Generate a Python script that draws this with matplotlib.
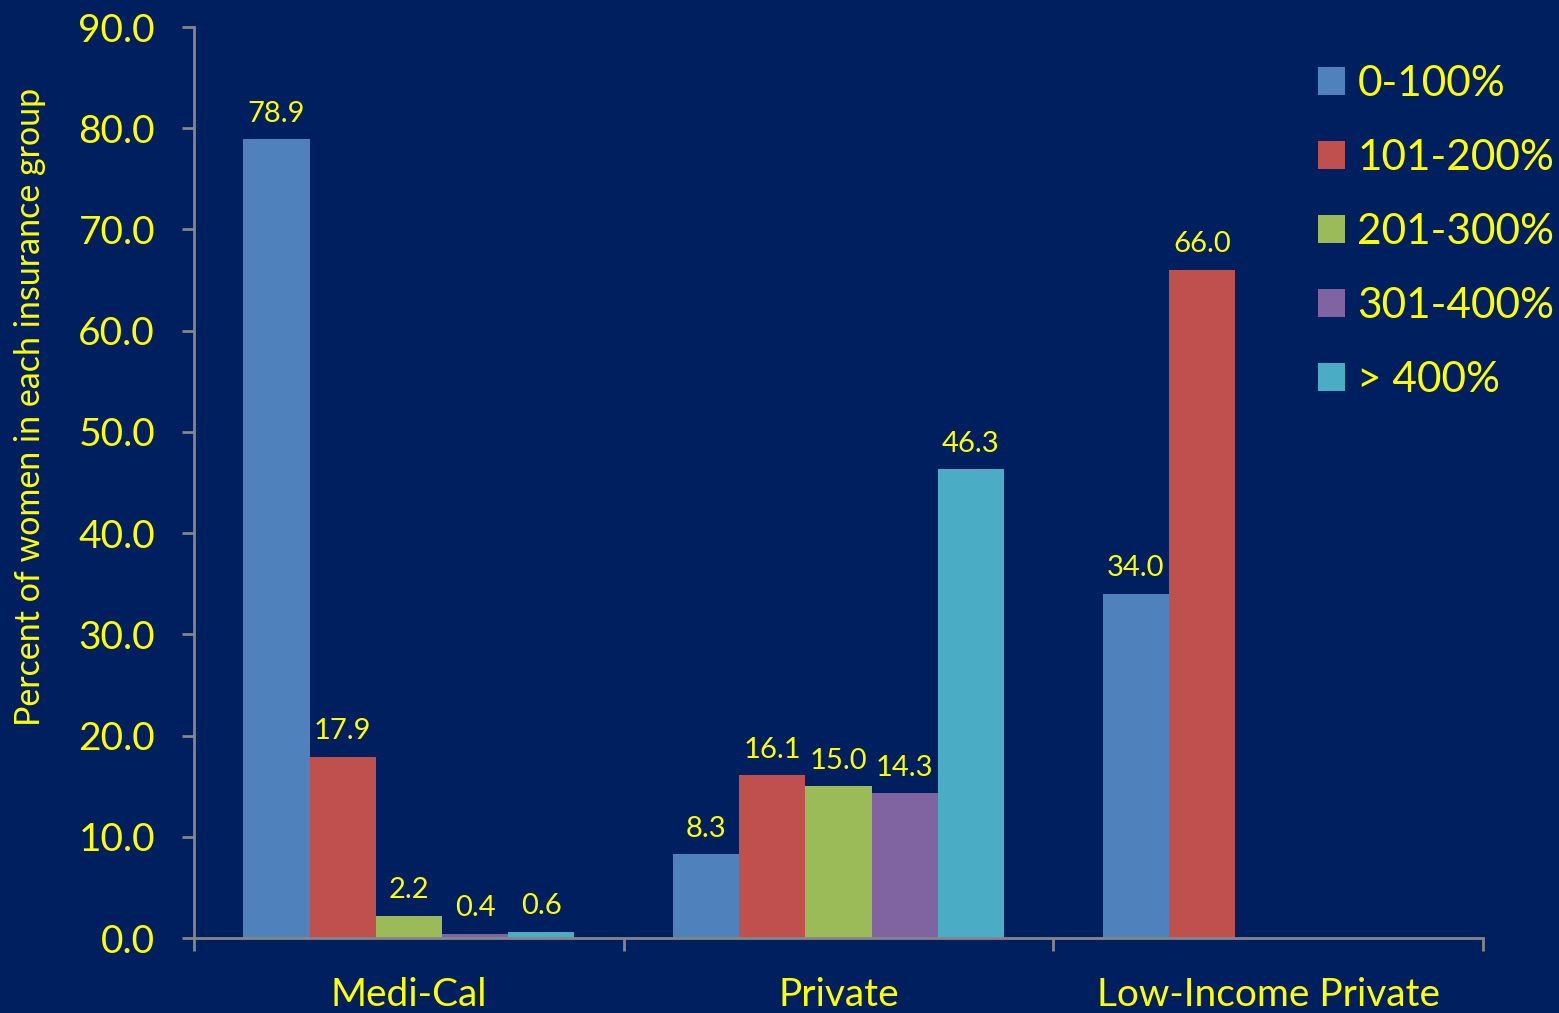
import numpy as np
import matplotlib.pyplot as plt
from matplotlib.patches import Patch

plt.rcParams['font.family'] = ['Lato', 'DejaVu Sans']

categories = ['Medi-Cal', 'Private', 'Low-Income Private']
series = ['0-100%', '101-200%', '201-300%', '301-400%', '> 400%']
values = [
    [78.9, 8.3, 34.0],
    [17.9, 16.1, 66.0],
    [2.2, 15.0, np.nan],
    [0.4, 14.3, np.nan],
    [0.6, 46.3, np.nan],
]
colors = ['#4F81BD', '#C0504D', '#9BBB59', '#8064A2', '#4BACC6']

bg = '#001F5F'
yellow = '#FFFF00'
grey = '#868686'

fig = plt.figure(figsize=(15.59, 10.13), dpi=100, facecolor=bg)
ax = fig.add_axes([0.1244, 0.0740, 0.8268, 0.8993])
ax.set_facecolor(bg)

width = 0.154
x = np.arange(len(categories))
for i, (name, vals) in enumerate(zip(series, values)):
    pos = x + 0.5 + (i - 2) * width
    vals = np.array(vals, dtype=float)
    ok = ~np.isnan(vals)
    ax.bar(pos[ok], vals[ok], width, color=colors[i], label=name)
    for px, v in zip(pos[ok], vals[ok]):
        ax.annotate('%.1f' % v, (px, v), xytext=(0, 9), textcoords='offset points',
                    ha='center', va='bottom', color=yellow, fontsize=21)

ax.set_xlim(0, 3)
ax.set_ylim(0, 90)
ax.set_yticks(np.arange(0, 91, 10))
ax.set_yticklabels(['%.1f' % t for t in np.arange(0, 91, 10)])
ax.set_xticks([0, 1, 2, 3])
ax.set_xticklabels([])
ax.set_xticks(x + 0.5, minor=True)
ax.set_xticklabels(categories, minor=True)
ax.tick_params(axis='x', which='minor', length=0, pad=28, labelsize=28, labelcolor=yellow)
ax.tick_params(axis='x', which='major', length=9, width=2, color=grey, direction='out')
ax.tick_params(axis='y', length=9, width=2, color=grey, labelsize=28, labelcolor=yellow, pad=19)

for s in ['top', 'right']:
    ax.spines[s].set_visible(False)
for s in ['left', 'bottom']:
    ax.spines[s].set_color(grey)
    ax.spines[s].set_linewidth(2)

fig.text(0.019, 0.598, 'Percent of women in each insurance group', rotation=90,
         ha='center', va='center', color=yellow, fontsize=24.5)

handles = [Patch(facecolor=c, edgecolor='none') for c in colors]
leg = fig.legend(handles, series, loc='upper left', bbox_to_anchor=(0.8345, 0.953),
                 frameon=False, fontsize=30.5, handlelength=0.63, handleheight=0.63,
                 handletextpad=0.3, labelspacing=0.85, borderaxespad=0)
for t in leg.get_texts():
    t.set_color(yellow)

fig.savefig('out.png', dpi=100, facecolor=bg)
